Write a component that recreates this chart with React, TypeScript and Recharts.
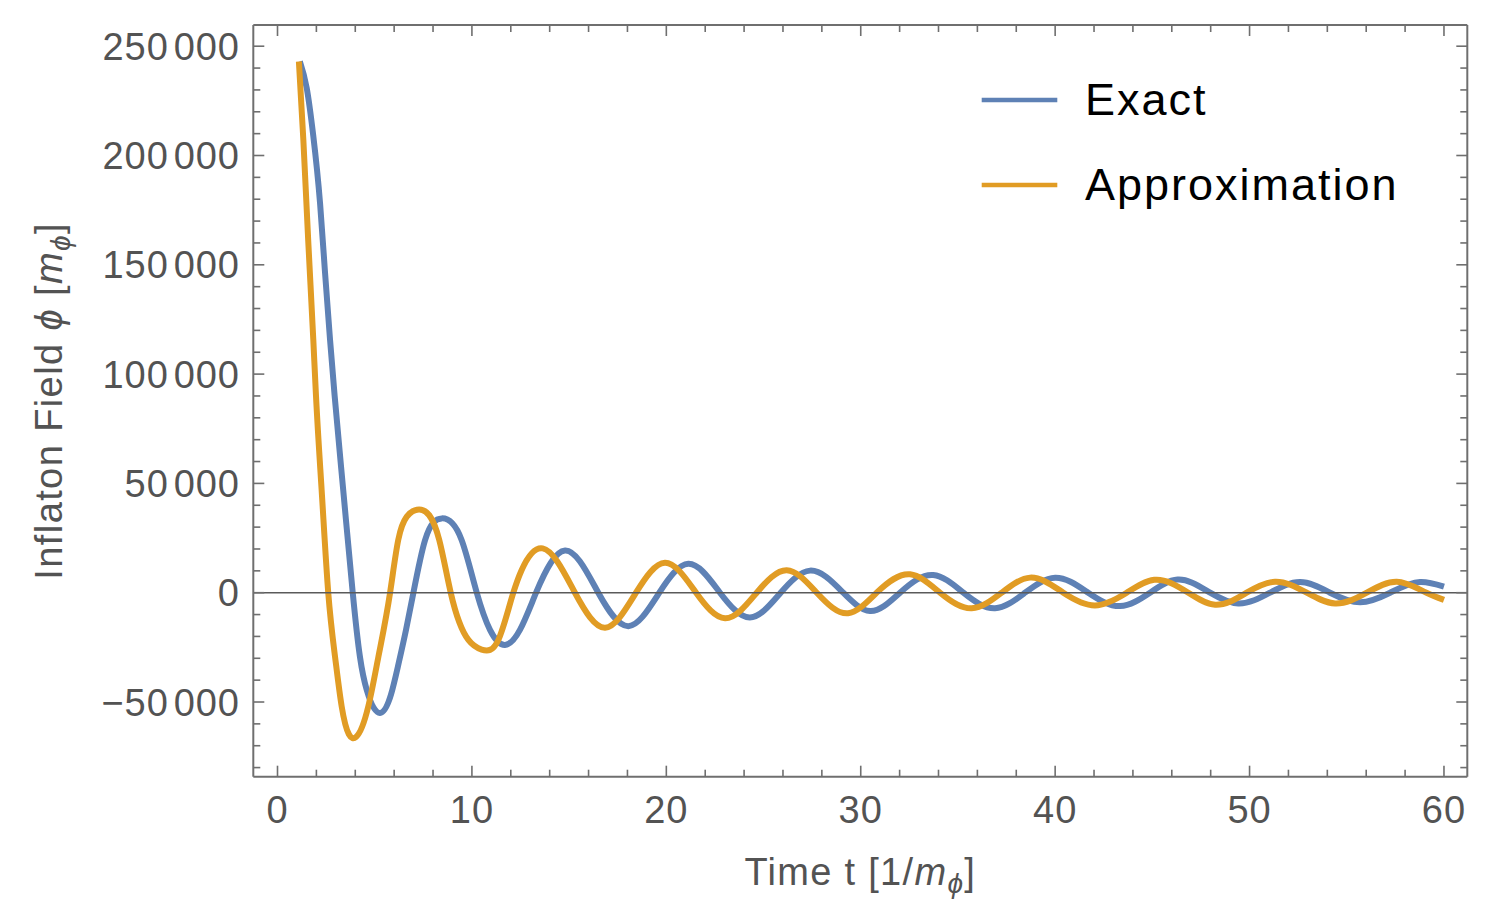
import React from 'react';
import { LineChart, Line, XAxis, YAxis, ReferenceLine, Legend } from 'recharts';

// ---- data ----
const exactT = [1.15, 1.5, 1.84, 2.19, 2.44, 2.7, 2.94, 3.38, 3.87, 4.24, 4.59, 5.27, 5.84, 6.2, 6.61, 6.99, 7.59, 8.45, 9.47, 10.25, 10.93, 11.7, 12.47, 13.3, 14.79, 16.5, 18.05, 19.64, 21.13, 22.76, 24.3, 25.88, 27.39, 29.1, 30.48, 32.02, 33.73, 35.28, 36.91, 38.45, 40.0, 41.7, 43.34, 44.88, 46.3, 47.97, 49.42, 51.05, 52.6, 54.14, 55.69, 57.23, 58.77, 60.0];
const exactPhi = [243000, 231000, 209000, 178000, 147000, 116000, 90000, 47000, 0, -29300, -44500, -55000, -46500, -33500, -17000, 0, 24100, 34000, 24100, 0, -17000, -23900, -17000, 0, 19300, 0, -15300, 0, 13200, 0, -11300, 0, 10100, 0, -8400, 0, 8100, 0, -7150, 0, 6860, 0, -6100, 0, 6000, 0, -4900, 0, 4900, 0, -4400, 0, 4900, 2750];

const approxT = [1.1, 1.33, 1.58, 1.84, 1.98, 2.27, 2.61, 2.96, 3.3, 4.04, 4.67, 5.19, 5.79, 6.21, 6.65, 7.29, 8.32, 8.91, 9.82, 10.5, 11.36, 12.13, 12.56, 13.64, 15.3, 16.85, 18.44, 19.93, 21.53, 23.02, 24.65, 26.19, 27.74, 29.35, 30.82, 32.54, 34.08, 35.71, 37.25, 38.71, 40.42, 42.05, 43.68, 45.1, 46.85, 48.23, 49.85, 51.31, 52.94, 54.4, 56.03, 57.57, 59.1, 60.0];
const approxPhi = [243000, 207000, 161000, 116000, 90000, 47000, 0, -29300, -52000, -66000, -52000, -29300, 0, 24100, 34800, 38100, 24100, 0, -21600, -26000, -21600, 0, 10400, 20300, 0, -16000, 0, 13700, 0, -11700, 0, 10300, 0, -9400, 0, 8400, 0, -7150, 0, 6900, 0, -5800, 0, 5900, 0, -5500, 0, 5000, 0, -4900, 0, 5000, 0, -3300];

const xTicks = [0, 2, 4, 6, 8, 10, 12, 14, 16, 18, 20, 22, 24, 26, 28, 30, 32, 34, 36, 38, 40, 42, 44, 46, 48, 50, 52, 54, 56, 58, 60];
const xMajor = [0, 10, 20, 30, 40, 50, 60];
const yTicks = [-80000, -70000, -60000, -50000, -40000, -30000, -20000, -10000, 0, 10000, 20000, 30000, 40000, 50000, 60000, 70000, 80000, 90000, 100000, 110000, 120000, 130000, 140000, 150000, 160000, 170000, 180000, 190000, 200000, 210000, 220000, 230000, 240000, 250000];
const yMajor = [-50000, 0, 50000, 100000, 150000, 200000, 250000];

const seriesNames = ['Exact', 'Approximation'];

const exactData = exactT.map((t, i) => ({ t, phi: exactPhi[i] }));
const approxData = approxT.map((t, i) => ({ t, phi: approxPhi[i] }));

// ---- styles ----
const BLUE = '#5E81B5';
const ORANGE = '#E19C24';
const FRAME = '#6f6f6f';
const TXT = '#535353';
const FONT = '"Liberation Sans", Arial, Helvetica, sans-serif';
const MAJOR_LEN = 11;
const MINOR_LEN = 7;

// Natural cubic spline of y as a function of x (smooth curve through the read points)
const naturalFn = (context: any) => {
  let xs: number[] = [];
  let ys: number[] = [];
  return {
    areaStart() {},
    areaEnd() {},
    lineStart() {
      xs = [];
      ys = [];
    },
    point(x: number, y: number) {
      xs.push(+x);
      ys.push(+y);
    },
    lineEnd() {
      const n = xs.length;
      if (n === 0) return;
      context.moveTo(xs[0], ys[0]);
      if (n === 1) return;
      if (n === 2) {
        context.lineTo(xs[1], ys[1]);
        return;
      }
      const h: number[] = [];
      for (let i = 0; i < n - 1; i++) h[i] = xs[i + 1] - xs[i];
      const M = new Array(n).fill(0);
      const cp: number[] = [];
      const dp: number[] = [];
      for (let i = 1; i <= n - 2; i++) {
        const a = h[i - 1];
        const b = 2 * (h[i - 1] + h[i]);
        const c = h[i];
        const d = 6 * ((ys[i + 1] - ys[i]) / h[i] - (ys[i] - ys[i - 1]) / h[i - 1]);
        const m = b - (i > 1 ? a * cp[i - 1] : 0);
        cp[i] = c / m;
        dp[i] = (d - (i > 1 ? a * dp[i - 1] : 0)) / m;
      }
      for (let i = n - 2; i >= 1; i--) {
        M[i] = dp[i] - (i < n - 2 ? cp[i] * M[i + 1] : 0);
      }
      for (let i = 0; i < n - 1; i++) {
        const hi = h[i];
        const s = (ys[i + 1] - ys[i]) / hi;
        const d0 = s - (hi * (2 * M[i] + M[i + 1])) / 6;
        const d1 = s + (hi * (M[i] + 2 * M[i + 1])) / 6;
        context.bezierCurveTo(xs[i] + hi / 3, ys[i] + (d0 * hi) / 3, xs[i + 1] - hi / 3, ys[i + 1] - (d1 * hi) / 3, xs[i + 1], ys[i + 1]);
      }
    },
  };
};

const splitNum = (v: number) => {
  const a = Math.abs(v);
  const s = String(a);
  const sign = v < 0 ? '\u2212' : '';
  if (a >= 10000) {
    return { sign, head: s.slice(0, s.length - 3), tail: s.slice(s.length - 3) };
  }
  return { sign, head: s, tail: '' };
};

const BottomTick = (p: any) => {
  const { x, y, payload } = p;
  const v = payload.value;
  const major = xMajor.includes(v);
  return (
    <g>
      <line x1={x} x2={x} y1={y} y2={y - (major ? MAJOR_LEN : MINOR_LEN)} stroke={FRAME} strokeWidth={1.6} />
      {major && (
        <text x={x} y={y + 46.5} textAnchor="middle" fill={TXT} fontSize={38} fontFamily={FONT} letterSpacing={1}>
          {v}
        </text>
      )}
    </g>
  );
};

const TopTick = (p: any) => {
  const { x, y, payload } = p;
  const major = xMajor.includes(payload.value);
  return <line x1={x} x2={x} y1={y} y2={y + (major ? MAJOR_LEN : MINOR_LEN)} stroke={FRAME} strokeWidth={1.6} />;
};

const LeftTick = (p: any) => {
  const { x, y, payload } = p;
  const v = payload.value;
  const major = yMajor.includes(v);
  const n = splitNum(v);
  return (
    <g>
      <line x1={x} x2={x + (major ? MAJOR_LEN : MINOR_LEN)} y1={y} y2={y} stroke={FRAME} strokeWidth={1.6} />
      {major && (
        <text x={x - 13.5} y={y + 13.5} textAnchor="end" fill={TXT} fontSize={38} fontFamily={FONT} letterSpacing={0.9}>
          {n.sign}
          {n.head}
          {n.tail && <tspan dx={5}>{n.tail}</tspan>}
        </text>
      )}
    </g>
  );
};

const RightTick = (p: any) => {
  const { x, y, payload } = p;
  const major = yMajor.includes(payload.value);
  return <line x1={x} x2={x - (major ? MAJOR_LEN : MINOR_LEN)} y1={y} y2={y} stroke={FRAME} strokeWidth={1.6} />;
};

const YLabel = (p: any) => {
  const vb = p.viewBox || { x: 0, y: 0, width: 0, height: 0 };
  const cx = vb.x + 53.7;
  const cy = vb.y + vb.height / 2;
  return (
    <text x={cx} y={cy} transform={`rotate(-90 ${cx} ${cy})`} textAnchor="middle" fill={TXT} fontSize={38} fontFamily={FONT} letterSpacing={1.4}>
      <tspan>{'Inflaton Field '}</tspan>
      <tspan fontStyle="italic">{'\u03D5'}</tspan>
      <tspan>{' ['}</tspan>
      <tspan fontStyle="italic">m</tspan>
      <tspan fontStyle="italic" fontSize={28} dy={8}>{'\u03D5'}</tspan>
      <tspan dy={-8}>]</tspan>
    </text>
  );
};

const XLabel = (p: any) => {
  const vb = p.viewBox || { x: 0, y: 0, width: 0, height: 0 };
  const cx = vb.x + vb.width / 2;
  const cy = vb.y + 108.3;
  return (
    <text x={cx} y={cy} textAnchor="middle" fill={TXT} fontSize={38} fontFamily={FONT} letterSpacing={1.3}>
      <tspan>{'Time t [1/'}</tspan>
      <tspan fontStyle="italic">m</tspan>
      <tspan fontStyle="italic" fontSize={28} dy={8}>{'\u03D5'}</tspan>
      <tspan dy={-8}>]</tspan>
    </text>
  );
};

const LegendBox = () => (
  <svg width={460} height={170} style={{ display: 'block', overflow: 'visible' }}>
    <line x1={11.7} x2={87.3} y1={50} y2={50} stroke={BLUE} strokeWidth={4.5} />
    <text x={115} y={65} fill="#000" fontSize={45} fontFamily={FONT} letterSpacing={2}>
      {seriesNames[0]}
    </text>
    <line x1={11.7} x2={87.3} y1={135} y2={135} stroke={ORANGE} strokeWidth={4.5} />
    <text x={115} y={150} fill="#000" fontSize={45} fontFamily={FONT} letterSpacing={2}>
      {seriesNames[1]}
    </text>
  </svg>
);

const X_DOMAIN: [number, number] = [-1.245, 61.2];
const Y_DOMAIN: [number, number] = [-84170, 259700];

export default function App() {
  return (
    <div style={{ width: 1486, height: 907 }}>
      <LineChart width={1486} height={907} margin={{ top: 16, right: 25.7, bottom: 0, left: 0 }}>
        <XAxis
          dataKey="t"
          type="number"
          domain={X_DOMAIN}
          allowDataOverflow
          ticks={xTicks}
          interval={0}
          tickSize={0}
          tickMargin={0}
          tickLine={false}
          tick={<BottomTick />}
          height={138.3}
          axisLine={{ stroke: FRAME, strokeWidth: 2 }}
          label={<XLabel />}
        />
        <XAxis
          xAxisId="top"
          orientation="top"
          dataKey="t"
          type="number"
          domain={X_DOMAIN}
          allowDataOverflow
          ticks={xTicks}
          interval={0}
          tickSize={0}
          tickMargin={0}
          tickLine={false}
          tick={<TopTick />}
          height={1}
          axisLine={{ stroke: FRAME, strokeWidth: 2 }}
        />
        <YAxis
          type="number"
          domain={Y_DOMAIN}
          allowDataOverflow
          ticks={yTicks}
          interval={0}
          tickSize={0}
          tickMargin={0}
          tickLine={false}
          tick={<LeftTick />}
          width={245.3}
          axisLine={{ stroke: FRAME, strokeWidth: 2 }}
          label={<YLabel />}
        />
        <YAxis
          yAxisId="right"
          orientation="right"
          type="number"
          domain={Y_DOMAIN}
          allowDataOverflow
          ticks={yTicks}
          interval={0}
          tickSize={0}
          tickMargin={0}
          tickLine={false}
          tick={<RightTick />}
          width={1}
          axisLine={{ stroke: FRAME, strokeWidth: 2 }}
        />
        <Line
          data={exactData}
          dataKey="phi"
          name={seriesNames[0]}
          type={naturalFn as any}
          stroke={BLUE}
          strokeWidth={6}
          dot={false}
          activeDot={false}
          isAnimationActive={false}
          strokeLinejoin="round"
        />
        <Line
          data={approxData}
          dataKey="phi"
          name={seriesNames[1]}
          type={naturalFn as any}
          stroke={ORANGE}
          strokeWidth={6}
          dot={false}
          activeDot={false}
          isAnimationActive={false}
          strokeLinejoin="round"
        />
        <ReferenceLine y={0} stroke="#5a5a5a" strokeWidth={1.4} ifOverflow="visible" />
        <Legend
          layout="vertical"
          align="center"
          verticalAlign="middle"
          wrapperStyle={{ left: 962, top: 42, width: 460, height: 170 }}
          content={() => <LegendBox />}
        />
      </LineChart>
    </div>
  );
}
